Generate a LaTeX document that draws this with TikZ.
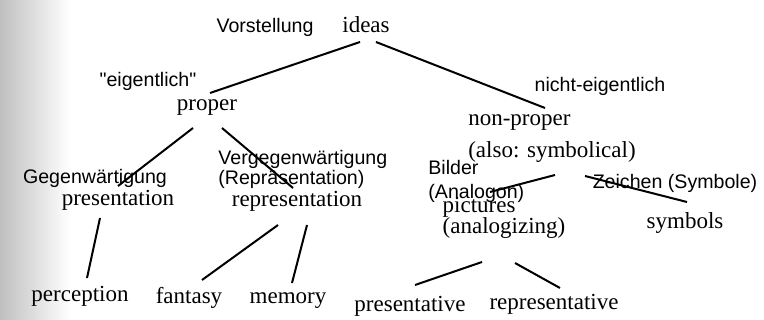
\documentclass[tikz,border=0pt]{standalone}
\usepackage{fontspec}
\setmainfont{Liberation Serif}
\newfontfamily\germanfont{Liberation Sans}
\usepackage{tikz}
\tikzset{
  term/.style={font=\fontsize{11.5}{13.5}\selectfont, inner sep=1pt},
  gloss/.style={font=\germanfont\fontsize{9.8}{10}\selectfont, inner sep=1pt},
  branch/.style={line width=1pt}
}

\begin{document}
\begin{tikzpicture}[x=0.5pt, y=-0.5pt]
  \useasboundingbox (0,0) rectangle (764,320);
  \shade[left color=black!25, right color=white] (0,0) rectangle (70,320);

  \node[gloss] (vorst) at (265,27) {Vorstellung};
  \node[term] (ideas) at (366,25) {ideas};

  \node[gloss] (eig) at (148,81) {"eigentlich"};
  \node[term] (proper) at (207,108) {proper};
  \node[gloss] (nichteig) at (600,86) {nicht-eigentlich};
  \node[term, align=left] (nonproper) at (552,139) {non-proper\\[2.5pt](also: symbolical)};

  \node[gloss] (gegenw) at (95,178) {Gegenwärtigung};
  \node[term] (presentation) at (118,200) {presentation};
  \node[gloss, align=left, anchor=west] (vergegenw) at (216,169) {Vergegenwärtigung\\(Repräsentation)};
  \node[term] (representation) at (297,201) {representation};

  \node[gloss, align=left, anchor=west] (bilder) at (426,181) {Bilder\\[2pt](Analogon)};
  \node[term, align=left] (pictures) at (504,218) {pictures\\[-3pt](analogizing)};
  \node[gloss] (zeichen) at (675,183) {Zeichen (Symbole)};
  \node[term] (symbols) at (685,223) {symbols};

  \node[term] (perception) at (80,296) {perception};
  \node[term] (fantasy) at (189,298) {fantasy};
  \node[term] (memory) at (288,301) {memory};
  \node[term] (presentative) at (410,306) {presentative};
  \node[term] (representative) at (554,304) {representative};

  \draw[branch] ([shift={(-6,17)}]ideas.center) -- ([shift={(3,-15)}]proper.center);
  \draw[branch] ([shift={(10,17)}]ideas.center) -- ([shift={(-7,-31)}]nonproper.center);
  \draw[branch] ([shift={(-14,20)}]proper.center) -- ([shift={(0,-14)}]presentation.center);
  \draw[branch] ([shift={(15,20)}]proper.center) -- ([shift={(-4,-13)}]representation.center);
  \draw[branch] ([shift={(-18,18)}]presentation.center) -- ([shift={(7,-18)}]perception.center);
  \draw[branch] ([shift={(-19,24)}]representation.center) -- ([shift={(13,-18)}]fantasy.center);
  \draw[branch] ([shift={(10,24)}]representation.center) -- ([shift={(4,-18)}]memory.center);
  \draw[branch] ([shift={(3,36)}]nonproper.center) -- ([shift={(-14,-26)}]pictures.center);
  \draw[branch] ([shift={(33,37)}]nonproper.center) -- ([shift={(2,-21)}]symbols.center);
  \draw[branch] ([shift={(-22,44)}]pictures.center) -- ([shift={(5,-21)}]presentative.center);
  \draw[branch] ([shift={(11,45)}]pictures.center) -- ([shift={(6,-16)}]representative.center);
\end{tikzpicture}
\end{document}
